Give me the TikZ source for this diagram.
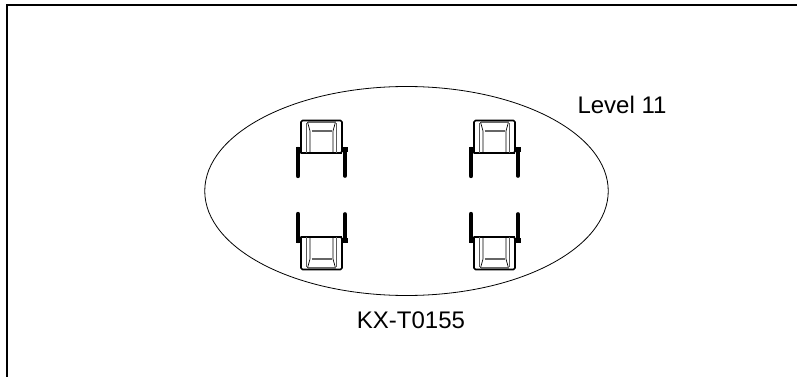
\documentclass[tikz,border=0pt]{standalone}
\usepackage{fontspec}
\setmainfont{Liberation Sans}
\usetikzlibrary{shapes.geometric}
\tikzset{
  zone/.style={ellipse,draw,line width=0.8pt,minimum width=403.5pt,minimum height=209pt,inner sep=0pt},
  caption/.style={font=\fontsize{24}{28}\selectfont,inner sep=0pt},
  frameline/.style={line width=2pt},
  phone/.pic={
    % drawn facing down, origin at the middle of the lower edge of the body
    \draw[line width=1.6pt,line join=round,fill=white] (-20.5,0) -- (-20.5,-30) [rounded corners=1.5pt] -- (-20.5,-32.5) -- (20.5,-32.5) -- (20.5,0) [sharp corners] -- cycle;
    \draw[line width=2pt] (-20.5,0) -- (20.5,0);
    \draw[line width=1.2pt,black!65] (-15,0) -- (-15,-30);
    \draw[line width=1.2pt,black!65] (15,0) -- (15,-30);
    \draw[line width=0.7pt] (-11.5,0) -- (-11.5,-22) -- (-14,-31);
    \draw[line width=0.7pt] (11.5,0) -- (11.5,-22) -- (14,-31);
    \draw[line width=1.2pt,black!60] (-10,-22) -- (10,-22);
    \draw[line width=1.2pt,black!60] (-14,-31) -- (14,-31);
    \fill (-26,-6) rectangle (-20,-1);
    \fill (20,-6) rectangle (26,-1);
    \draw[line width=4.4pt,line cap=round] (-23.5,-4) -- (-23.5,23);
    \draw[line width=3.6pt,line cap=round] (23.5,-4) -- (23.5,23);
  }
}
\begin{document}
\begin{tikzpicture}[x=1pt,y=-1pt]
\useasboundingbox (0,0) rectangle (797,377);
\draw[frameline] (6.5,377) -- (6.5,5.5) -- (797,5.5);
\node[zone] (zone11) at (406.5,191) {};
\node[caption] (level) at (622,104.5) {Level 11};
\node[caption] (model) at (411,320.5) {KX-T0155};
\path (321.5,153) pic {phone};
\path (494.5,153) pic {phone};
\path (321.5,237) pic[yscale=-1] {phone};
\path (494.5,237) pic[yscale=-1] {phone};
\end{tikzpicture}
\end{document}
